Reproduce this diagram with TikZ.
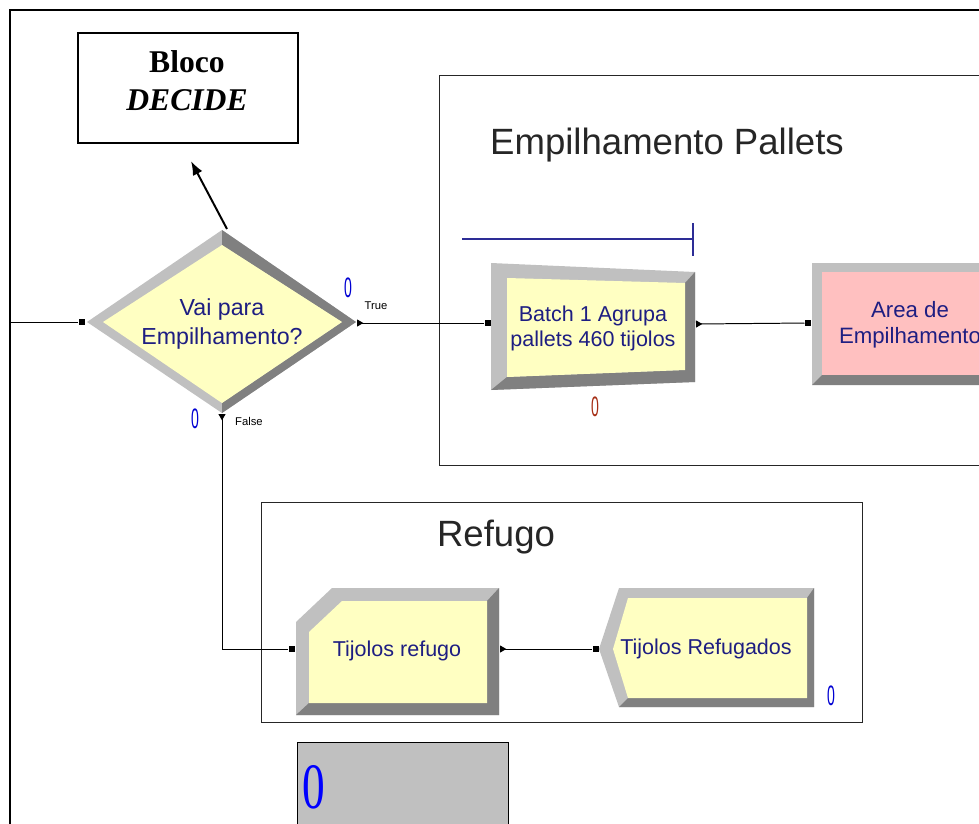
\documentclass[tikz,border=0pt]{standalone}
\usepackage{fontspec}
\setmainfont{Liberation Serif}
\newfontfamily\arial{Liberation Sans}
\usetikzlibrary{arrows.meta,positioning}
\definecolor{lgray}{RGB}{192,192,192}
\definecolor{dgray}{RGB}{128,128,128}
\definecolor{cream}{RGB}{255,255,194}
\definecolor{rose}{RGB}{255,192,192}
\definecolor{navy}{RGB}{30,30,130}
\definecolor{barblue}{RGB}{45,45,150}
\definecolor{cntblue}{RGB}{0,0,210}
\definecolor{cntred}{RGB}{165,45,20}

\begin{document}
\begin{tikzpicture}[x=0.025cm,y=-0.025cm,>=Latex,
  lbl/.style={font=\arial\fontsize{15.3}{17.8}\selectfont,text=navy,align=center,inner sep=0pt},
  cnt/.style={font=\arial\fontsize{20}{20}\selectfont,text=cntblue,inner sep=0pt},
  tag/.style={font=\arial\fontsize{8}{9}\selectfont,inner sep=0pt},
  grp/.style={draw=black!85,line width=0.7pt},
  ttl/.style={font=\arial\fontsize{26}{30}\selectfont,text=black!85,inner sep=0pt},
  port/.style={fill=black,minimum size=4.6pt,inner sep=0pt},
  conn/.style={line width=0.7pt},
  outp/.style={conn,{Triangle[reversed,length=4.5pt,width=5pt]}-}]
\useasboundingbox (0,0) rectangle (979,823);
\clip (0,0) rectangle (979,823);
% frame and note
\draw[line width=1.5pt] (10,840) -- (10,10) -- (1000,10);
\node[draw,line width=1pt,minimum width=5.5cm,minimum height=2.75cm] (bloco) at (188,88) {};
\node[font=\fontsize{22.5}{27}\selectfont,align=center,inner sep=0pt] (blocotxt) at (187,81)
  {\textbf{Bloco}\\\textbf{\textit{DECIDE}}};
\coordinate (dtop) at (227,229); \coordinate (atip) at (191,161);
\draw[-{Latex[length=10pt,width=7.5pt]},line width=1.4pt] (dtop) -- (atip);
% groups
\draw[grp] (439,75) rectangle (1000,465);
\node[ttl] (ep) at (667,145) {Empilhamento Pallets};
\draw[grp] (261,502) rectangle (862,722);
\node[ttl] (rf) at (496,537) {Refugo};
% decide
\fill[lgray] (87,322)--(222,230)--(356,322)--(222,413)--cycle;
\fill[dgray] (222,230)--(356,322)--(222,413)--(222,403)--(342,322)--(222,245)--cycle;
\fill[cream] (103,322)--(222,245)--(342,322)--(222,403)--cycle;
\node[lbl,font=\arial\fontsize{16.5}{20}\selectfont] (dec) at (222,324) {Vai para\\Empilhamento?};
\node[port] (din) at (82,322) {};
\coordinate (src) at (10,322);
\coordinate (dtrue) at (357,323); \coordinate (dfalse) at (222,414);
\node[cnt] (c1) at (348,288) {\scalebox{.5}[1]{0}};
\node[tag] (ttrue) at (376,306) {True};
\node[cnt] (c2) at (195,419) {\scalebox{.5}[1]{0}};
\node[tag] (tfalse) at (249,421) {False};
% batch
\fill[lgray] (491,263)--(695,272)--(695,382)--(491,390)--cycle;
\fill[dgray] (695,272)--(695,382)--(491,390)--(507,377)--(685,370)--(685,283)--cycle;
\fill[cream] (507,278)--(685,283)--(685,370)--(507,377)--cycle;
\node[lbl] (bat) at (593,328) {Batch 1 Agrupa\\pallets 460 tijolos};
\draw[draw=barblue,line width=0.8pt] (462,239) -- (693,239) (693,223) -- (693,256);
\node[port] (bin) at (488,323) {};
\coordinate (bout) at (696,324);
\node[cnt,text=cntred] (c3) at (595,407) {\scalebox{.5}[1]{0}};
% area
\fill[lgray] (812,263) rectangle (1000,385);
\fill[dgray] (812,385) -- (822,375) -- (1000,375) -- (1000,385) -- cycle;
\fill[rose] (822,272) rectangle (1000,375);
\node[lbl,font=\arial\fontsize{15.8}{18.5}\selectfont] (area) at (910,325) {Area de\\Empilhamento};
\node[port] (ain) at (808,323) {};
% refugo
\fill[lgray] (332,588)--(499,588)--(499,715)--(296,715)--(296,622)--cycle;
\fill[dgray] (499,588)--(499,715)--(296,715)--(309,703)--(487,703)--(487,601)--cycle;
\fill[cream] (342,601)--(487,601)--(487,703)--(309,703)--(309,632)--cycle;
\node[lbl] (ref) at (397,651) {Tijolos refugo};
\node[port] (rin) at (292,649) {};
\coordinate (rout) at (500,649);
% dispose
\fill[lgray] (619,588)--(814,588)--(814,707)--(619,707)--(599,649)--cycle;
\fill[dgray] (814,588)--(814,707)--(619,707)--(628,698)--(807,698)--(807,598)--cycle;
\fill[cream] (628,598)--(807,598)--(807,698)--(628,698)--(613,649)--cycle;
\node[lbl] (dis) at (706,649) {Tijolos Refugados};
\node[port] (xin) at (596,649) {};
\node[cnt] (c4) at (831,696) {\scalebox{.5}[1]{0}};
% counter
\draw[fill=lgray,line width=0.7pt] (297,742) rectangle (508,840);
\node[font=\fontsize{46}{46}\selectfont,text=blue,inner sep=0pt] (tot) at (314,787) {\scalebox{.7}[1]{0}};
% connectors
\draw[conn] (src) -- (din);
\draw[outp] (dtrue) -- (bin);
\draw[outp] (dfalse) |- (rin);
\draw[outp] (bout) -- (ain);
\draw[outp] (rout) -- (xin);
\end{tikzpicture}
\end{document}
